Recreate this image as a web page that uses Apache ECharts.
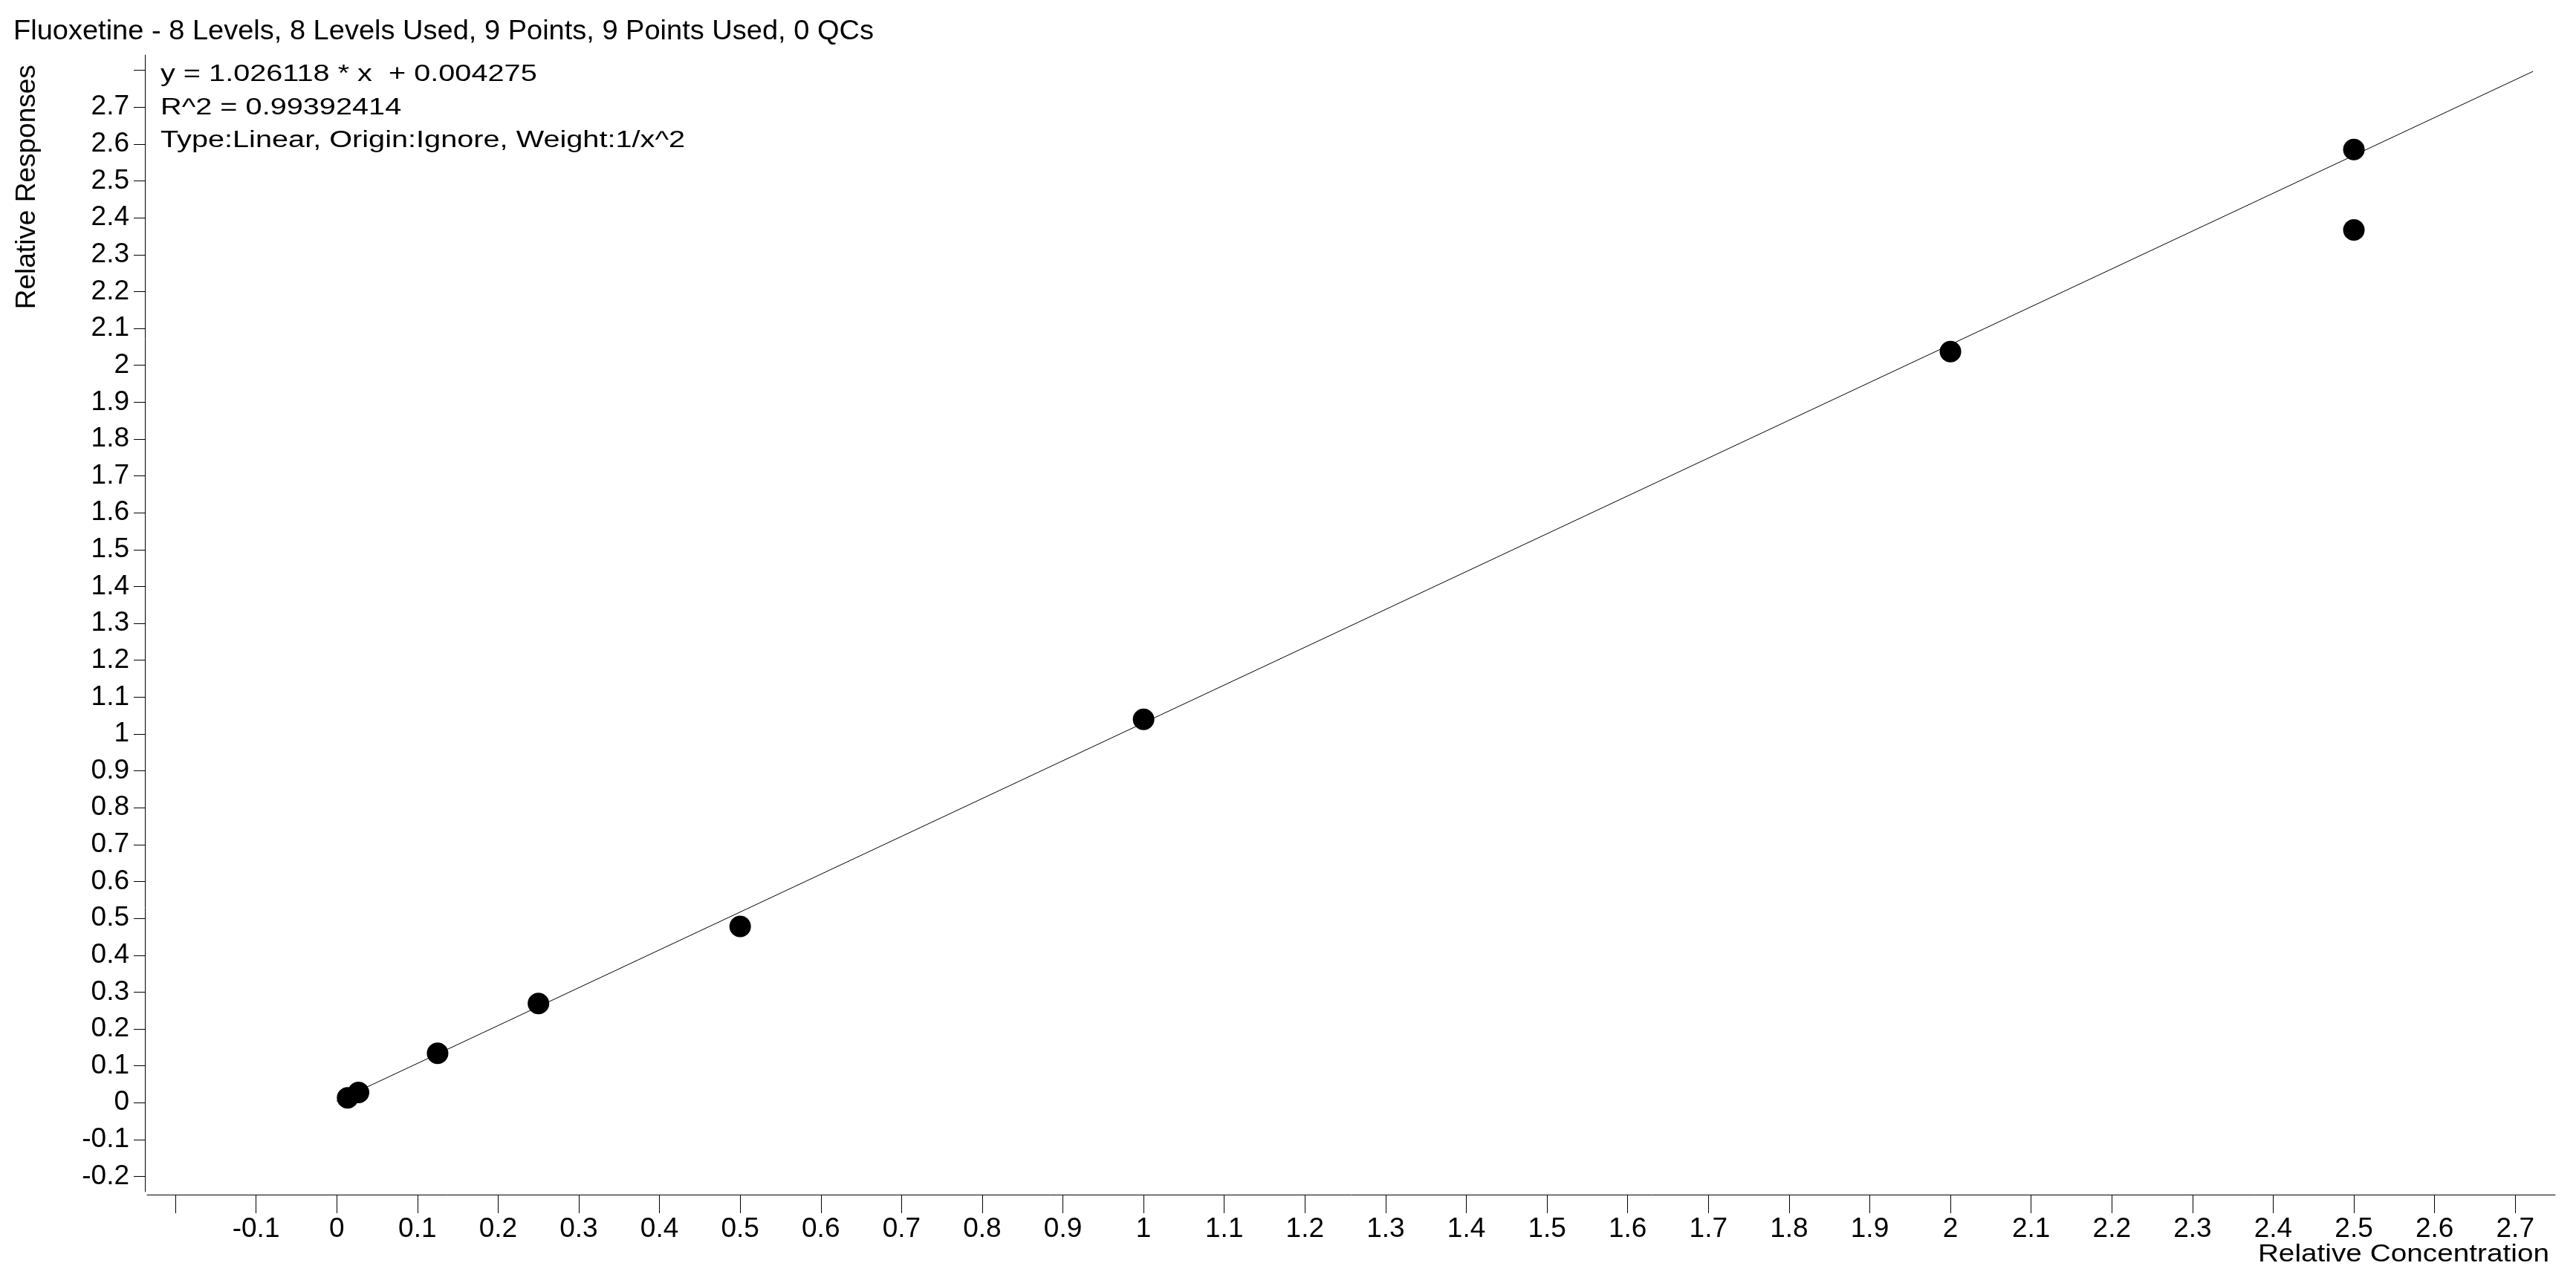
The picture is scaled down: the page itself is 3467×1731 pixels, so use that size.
<!DOCTYPE html>
<html>
<head>
<meta charset="utf-8">
<script src="https://cdn.jsdelivr.net/npm/echarts@6/dist/echarts.min.js"></script>
<style>
  html, body { margin: 0; padding: 0; background: #fff; }
  #chart { width: 3467px; height: 1731px; }
</style>
</head>
<body>
<div id="chart"></div>
<script>
// ---- data ----
const titleText = 'Fluoxetine - 8 Levels, 8 Levels Used, 9 Points, 9 Points Used, 0 QCs';
const fitTextLines = ['y = 1.026118 * x  + 0.004275', 'R^2 = 0.99392414', 'Type:Linear, Origin:Ignore, Weight:1/x^2'];
const xAxisName = 'Relative Concentration';
const yAxisName = 'Relative Responses';

const concentration = [0.0135, 0.027, 0.125, 0.25, 0.5, 1, 2, 2.5, 2.5];
const response      = [0.013, 0.028, 0.134, 0.269, 0.478, 1.04, 2.037, 2.585, 2.367];

const fitLineX = [0, 2.722];
const fitLineY = [0.004, 2.797];

const xTickValues  = [-0.2, -0.1, 0, 0.1, 0.2, 0.3, 0.4, 0.5, 0.6, 0.7, 0.8, 0.9, 1, 1.1, 1.2, 1.3, 1.4, 1.5, 1.6, 1.7, 1.8, 1.9, 2, 2.1, 2.2, 2.3, 2.4, 2.5, 2.6, 2.7];
const xLabelValues = [-0.1, 0, 0.1, 0.2, 0.3, 0.4, 0.5, 0.6, 0.7, 0.8, 0.9, 1, 1.1, 1.2, 1.3, 1.4, 1.5, 1.6, 1.7, 1.8, 1.9, 2, 2.1, 2.2, 2.3, 2.4, 2.5, 2.6, 2.7];
const yTickValues  = [-0.2, -0.1, 0, 0.1, 0.2, 0.3, 0.4, 0.5, 0.6, 0.7, 0.8, 0.9, 1, 1.1, 1.2, 1.3, 1.4, 1.5, 1.6, 1.7, 1.8, 1.9, 2, 2.1, 2.2, 2.3, 2.4, 2.5, 2.6, 2.7, 2.8];
const yLabelValues = [-0.2, -0.1, 0, 0.1, 0.2, 0.3, 0.4, 0.5, 0.6, 0.7, 0.8, 0.9, 1, 1.1, 1.2, 1.3, 1.4, 1.5, 1.6, 1.7, 1.8, 1.9, 2, 2.1, 2.2, 2.3, 2.4, 2.5, 2.6, 2.7];

// ---- chart ----
const FONT = '"Liberation Sans", Arial, Helvetica, sans-serif';
const chart = echarts.init(document.getElementById('chart'), null, { renderer: 'canvas' });

const points = concentration.map((c, i) => [c, response[i]]);
const fitLine = fitLineX.map((x, i) => [x, fitLineY[i]]);
const fmt = v => String(Math.round(v * 10) / 10);

chart.setOption({
  backgroundColor: '#ffffff',
  animation: false,
  grid: { left: 198, right: 28, top: 74, bottom: 127, containLabel: false },
  xAxis: {
    type: 'value',
    min: -0.235,
    max: 2.7495,
    offset: 4,
    axisLine: { show: true, onZero: false, lineStyle: { color: '#000', width: 1 } },
    axisTick: { show: true, length: 25, customValues: xTickValues, lineStyle: { color: '#000', width: 1 } },
    axisLabel: { show: true, customValues: xLabelValues, formatter: fmt, margin: 28,
                 color: '#000', fontSize: 37, fontFamily: FONT },
    splitLine: { show: false }
  },
  yAxis: {
    type: 'value',
    min: -0.2412,
    max: 2.8416,
    offset: 3,
    axisLine: { show: true, onZero: false, lineStyle: { color: '#000', width: 1 } },
    axisTick: { show: true, length: 15, customValues: yTickValues, lineStyle: { color: '#000', width: 1 } },
    axisLabel: { show: true, customValues: yLabelValues, formatter: fmt, margin: 21,
                 color: '#000', fontSize: 37, fontFamily: FONT },
    splitLine: { show: false }
  },
  series: [
    {
      type: 'line',
      data: fitLine,
      symbol: 'none',
      lineStyle: { color: '#000', width: 1, opacity: 1 },
      silent: true,
      z: 2
    },
    {
      type: 'scatter',
      data: points,
      symbol: 'circle',
      symbolSize: 29,
      itemStyle: { color: '#000', opacity: 1 },
      emphasis: { disabled: true },
      z: 3
    }
  ],
  graphic: [
    {
      type: 'text', x: 18, y: 24.6, scaleX: 1.056,
      style: { text: titleText, fontSize: 36, fontFamily: FONT, fill: '#000',
               align: 'left', verticalAlign: 'top', lineHeight: 36 }
    },
    {
      type: 'text', x: 216, y: 78.6, scaleX: 1.28,
      style: { text: fitTextLines.join('\n'), fontSize: 31, fontFamily: FONT, fill: '#000',
               align: 'left', verticalAlign: 'top', lineHeight: 44.4 }
    },
    {
      type: 'text', x: 3431, y: 1672, scaleX: 1.14,
      style: { text: xAxisName, fontSize: 34, fontFamily: FONT, fill: '#000',
               align: 'right', verticalAlign: 'top', lineHeight: 34 }
    },
    {
      type: 'text', x: 37.2, y: 251.7, rotation: Math.PI / 2,
      style: { text: yAxisName, fontSize: 37, fontFamily: FONT, fill: '#000',
               align: 'center', verticalAlign: 'middle', lineHeight: 37 }
    }
  ]
});
</script>
</body>
</html>
